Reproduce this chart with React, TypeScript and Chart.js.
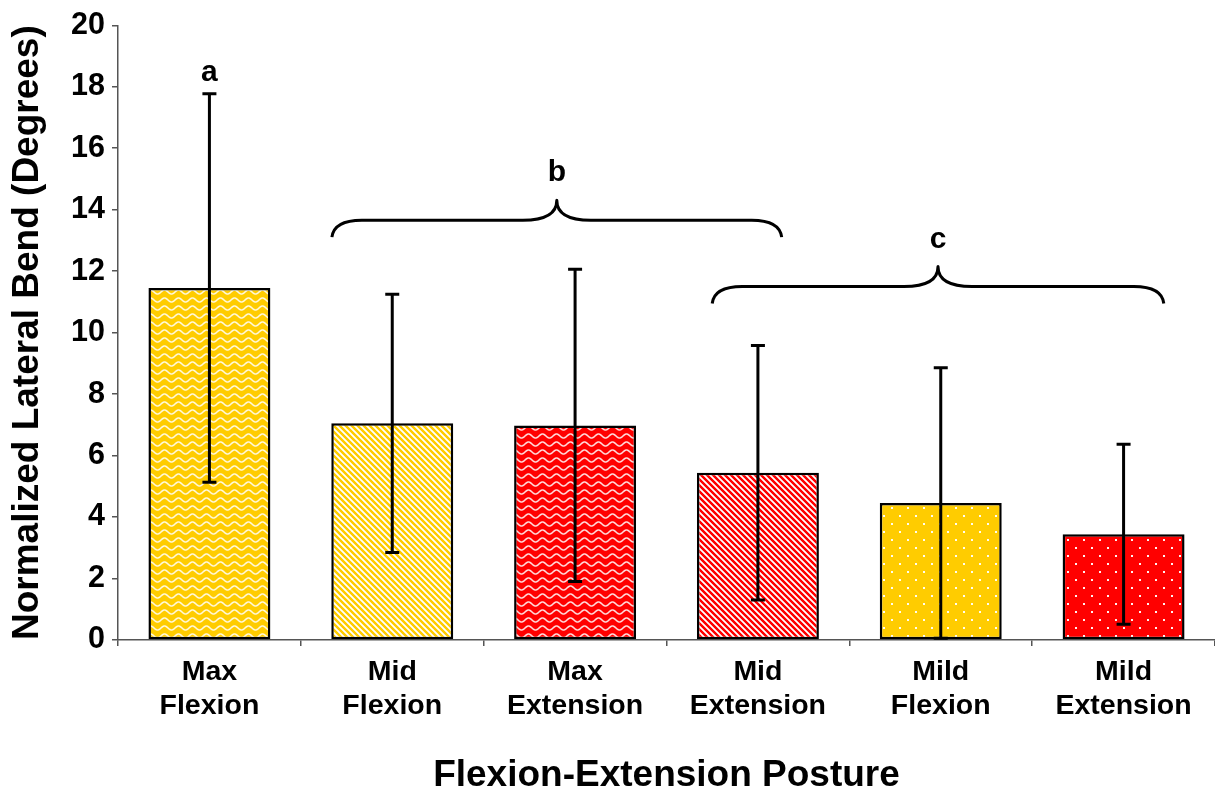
import React, { useEffect, useRef } from 'react';
import { Chart, registerables } from 'chart.js';

Chart.register(...registerables);

// Postures on the x axis (two-line labels)
const postures: string[][] = [
  ['Max', 'Flexion'],
  ['Mid', 'Flexion'],
  ['Max', 'Extension'],
  ['Mid', 'Extension'],
  ['Mild', 'Flexion'],
  ['Mild', 'Extension'],
];

// Mean normalized lateral bend (degrees) and standard deviation
const meanBend = [11.45, 7.05, 6.98, 5.44, 4.46, 3.44];
const sdBend = [6.32, 4.2, 5.08, 4.14, 4.4, 2.93];

// Y axis range
const yMin = 0;
const yMax = 20;
const yStep = 2;

// Significance group letters: label, category position, baseline value
const groupLetters = ['a', 'b', 'c'];
const groupLetterAt = [0, 1.9, 3.985];
const groupLetterBase = [18.2, 14.92, 12.75];

// Braces spanning the b and c groups (category positions and level in degrees)
const braceFrom = [0.67, 2.75];
const braceTo = [3.13, 5.22];
const braceLevel = [13.66, 11.5];

// Bar fills
const barColors = ['#FFCC00', '#FFCC00', '#FF0000', '#FF0000', '#FFCC00', '#FF0000'];
const barFillKinds = ['wave', 'stripe', 'wave', 'stripe', 'dots', 'dots'];

const FONT = "'Liberation Sans', Arial, Helvetica, sans-serif";

function makePattern(ctx: CanvasRenderingContext2D, kind: string, base: string): CanvasPattern | string {
  const tile = document.createElement('canvas');
  let w = 14;
  let h = 8;
  if (kind === 'stripe') { w = 6; h = 6; }
  if (kind === 'dots') { w = 16; h = 16; }
  tile.width = w;
  tile.height = h;
  const t = tile.getContext('2d')!;
  t.fillStyle = base;
  t.fillRect(0, 0, w, h);
  if (kind === 'wave') {
    t.strokeStyle = 'rgba(255,255,255,0.85)';
    t.lineWidth = 1.6;
    for (const off of [-h, 0, h]) {
      t.beginPath();
      for (let x = -1; x <= w + 1; x += 0.5) {
        const y = h / 2 + off + 2 * Math.sin((2 * Math.PI * x) / w);
        if (x === -1) t.moveTo(x, y);
        else t.lineTo(x, y);
      }
      t.stroke();
    }
  } else if (kind === 'stripe') {
    const img = t.getImageData(0, 0, w, h);
    for (let y = 0; y < h; y++) {
      for (let x = 0; x < w; x++) {
        const d = (((x - y) % w) + w) % w;
        if (d < 3) {
          const k = (y * w + x) * 4;
          const a = d === 1 ? 1 : 0.75;
          img.data[k] = Math.round(img.data[k] * (1 - a) + 255 * a);
          img.data[k + 1] = Math.round(img.data[k + 1] * (1 - a) + 255 * a);
          img.data[k + 2] = Math.round(img.data[k + 2] * (1 - a) + 255 * a);
        }
      }
    }
    t.putImageData(img, 0, 0);
  } else if (kind === 'dots') {
    t.fillStyle = 'rgba(255,255,255,0.95)';
    t.fillRect(3, 3, 2, 2);
    t.fillRect(11, 11, 2, 2);
  }
  return ctx.createPattern(tile, 'repeat') || base;
}

function drawBrace(ctx: CanvasRenderingContext2D, x1: number, x2: number, yLine: number) {
  const xc = (x1 + x2) / 2;
  const drop = 17;
  const rise = 20;
  const endR = 30;
  const midR = 34;
  ctx.beginPath();
  ctx.moveTo(x1, yLine + drop);
  ctx.quadraticCurveTo(x1 + 2, yLine, x1 + endR, yLine);
  ctx.lineTo(xc - midR, yLine);
  ctx.quadraticCurveTo(xc, yLine, xc, yLine - rise);
  ctx.quadraticCurveTo(xc, yLine, xc + midR, yLine);
  ctx.lineTo(x2 - endR, yLine);
  ctx.quadraticCurveTo(x2 - 2, yLine, x2, yLine + drop);
  ctx.stroke();
}

const overlayPlugin = {
  id: 'bendOverlay',
  afterDatasetsDraw(chart: any) {
    const { ctx, scales } = chart;
    const x = scales.x;
    const y = scales.y;
    ctx.save();
    // error bars (mean ± SD)
    ctx.strokeStyle = '#000';
    ctx.lineWidth = 3;
    ctx.lineCap = 'butt';
    meanBend.forEach((m, i) => {
      const px = x.getPixelForValue(i);
      const top = y.getPixelForValue(m + sdBend[i]);
      const bot = y.getPixelForValue(m - sdBend[i]);
      ctx.beginPath();
      ctx.moveTo(px, top);
      ctx.lineTo(px, bot);
      ctx.moveTo(px - 7, top);
      ctx.lineTo(px + 7, top);
      ctx.moveTo(px - 7, bot);
      ctx.lineTo(px + 7, bot);
      ctx.stroke();
    });
    // group braces
    ctx.lineWidth = 3;
    ctx.lineJoin = 'round';
    braceFrom.forEach((f, i) => {
      drawBrace(ctx, x.getPixelForValue(f), x.getPixelForValue(braceTo[i]), y.getPixelForValue(braceLevel[i]));
    });
    // group letters
    ctx.fillStyle = '#000';
    ctx.font = `bold 30px ${FONT}`;
    ctx.textAlign = 'center';
    ctx.textBaseline = 'alphabetic';
    groupLetters.forEach((g, i) => {
      ctx.fillText(g, x.getPixelForValue(groupLetterAt[i]), y.getPixelForValue(groupLetterBase[i]));
    });
    ctx.restore();
  },
};

export default function App() {
  const canvasRef = useRef<HTMLCanvasElement>(null);

  useEffect(() => {
    const canvas = canvasRef.current;
    if (!canvas) return;
    const ctx = canvas.getContext('2d')!;
    Chart.defaults.font.family = FONT;
    const fills = barFillKinds.map((k, i) => makePattern(ctx, k, barColors[i]));
    const axisColor = '#555';

    const chart = new Chart(canvas, {
      type: 'bar',
      data: {
        labels: postures,
        datasets: [
          {
            data: meanBend,
            backgroundColor: fills as any,
            borderColor: '#000',
            borderWidth: 2.5,
            borderSkipped: false,
            barPercentage: 0.667,
            categoryPercentage: 1,
          },
        ],
      },
      options: {
        responsive: false,
        animation: false,
        events: [],
        layout: { padding: { top: 21, right: 0, bottom: 0, left: 0 } },
        plugins: {
          legend: { display: false },
          tooltip: { enabled: false },
        },
        scales: {
          x: {
            grid: {
              display: true,
              drawOnChartArea: false,
              drawTicks: true,
              tickLength: 6,
              color: axisColor,
              lineWidth: 1.5,
              offset: true,
            },
            border: { display: true, color: axisColor, width: 1.5 },
            ticks: {
              color: '#000',
              font: { size: 28.5, weight: 'bold', lineHeight: 1.2 },
              padding: 9,
              maxRotation: 0,
              autoSkip: false,
            },
            title: {
              display: true,
              text: 'Flexion-Extension Posture',
              color: '#000',
              font: { size: 37, weight: 'bold', lineHeight: 1 },
              padding: { top: 0, bottom: 1 },
            },
            afterFit(scale: any) {
              scale.height = 155;
            },
          },
          y: {
            min: yMin,
            max: yMax,
            grid: {
              display: true,
              drawOnChartArea: false,
              drawTicks: true,
              tickLength: 6,
              color: axisColor,
              lineWidth: 1.5,
            },
            border: { display: true, color: axisColor, width: 1.5 },
            ticks: {
              stepSize: yStep,
              color: '#000',
              font: { size: 30.5, weight: 'bold' },
              padding: 7,
            },
            title: {
              display: true,
              text: 'Normalized Lateral Bend (Degrees)',
              color: '#000',
              font: { size: 37, weight: 'bold', lineHeight: 1 },
              padding: { top: 9, bottom: 0 },
            },
            afterFit(scale: any) {
              scale.width = 118;
            },
          },
        },
      },
      plugins: [overlayPlugin],
    });

    return () => chart.destroy();
  }, []);

  return (
    <canvas
      ref={canvasRef}
      width={1215}
      height={795}
      style={{ position: 'absolute', left: 0, top: 0, display: 'block', background: '#fff' }}
    />
  );
}
